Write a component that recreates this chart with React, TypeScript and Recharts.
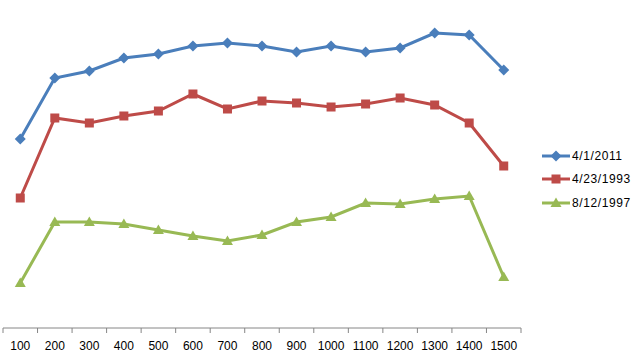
import React from 'react';
import { LineChart, Line, XAxis, YAxis, Legend } from 'recharts';

const categories = ['100', '200', '300', '400', '500', '600', '700', '800', '900', '1000', '1100', '1200', '1300', '1400', '1500'];
const seriesA = [189, 250, 257, 270, 274, 282, 285, 282, 276, 282, 276, 280, 295, 293, 258];
const seriesB = [130, 210, 205, 212, 217, 234, 219, 227, 225, 221, 224, 230, 223, 205, 162];
const seriesC = [45, 106, 106, 104, 98, 92, 87, 93, 106, 111, 125, 124, 129, 132, 51];

const seriesNames = ['4/1/2011', '4/23/1993', '8/12/1997'];
const seriesColors = ['#4A7EBB', '#BE4B48', '#98B954'];
const seriesShapes = ['diamond', 'square', 'triangle'];

const data = categories.map((c, i) => ({ cat: c, a: seriesA[i], b: seriesB[i], c: seriesC[i] }));

const HALF_BAND = 17.27;
const FONT = "'Liberation Sans', Arial, sans-serif";

const Marker = ({ shape, x, y, color }: { shape: string; x: number; y: number; color: string }) => {
  if (shape === 'diamond') {
    return <polygon points={`${x},${y - 5.5} ${x + 5.5},${y} ${x},${y + 5.5} ${x - 5.5},${y}`} fill={color} />;
  }
  if (shape === 'square') {
    return <rect x={x - 4.5} y={y - 4.5} width={9} height={9} fill={color} />;
  }
  return <polygon points={`${x},${y - 5.5} ${x + 5.5},${y + 4} ${x - 5.5},${y + 4}`} fill={color} />;
};

const makeDot = (shape: string, color: string) => (props: any) => {
  const { cx, cy, index } = props;
  return (
    <g key={`${shape}-${index}`}>
      <Marker shape={shape} x={cx} y={cy} color={color} />
    </g>
  );
};

// excel style: tick marks sit between categories
const CatTick = (props: any) => {
  const { x, y, payload, index } = props;
  const last = index === categories.length - 1;
  return (
    <g>
      <line x1={x - HALF_BAND} x2={x - HALF_BAND} y1={y - 8} y2={y - 3} stroke="#868686" />
      {last && <line x1={x + HALF_BAND} x2={x + HALF_BAND} y1={y - 8} y2={y - 3} stroke="#868686" />}
      <text x={x} y={y + 13.5} textAnchor="middle" fontSize={12} fill="#000" fontFamily={FONT}>
        {payload.value}
      </text>
    </g>
  );
};

const LegendBox = () => (
  <div style={{ fontFamily: FONT, fontSize: 12, letterSpacing: 0.6, color: '#000' }}>
    {seriesNames.map((n, i) => (
      <div key={n} style={{ display: 'flex', alignItems: 'center', height: 23.5 }}>
        <svg width={30} height={12} style={{ marginRight: 1 }}>
          <line x1={1} x2={29} y1={6} y2={6} stroke={seriesColors[i]} strokeWidth={3} />
          <Marker shape={seriesShapes[i]} x={15} y={6} color={seriesColors[i]} />
        </svg>
        <span>{n}</span>
      </div>
    ))}
  </div>
);

export default function App() {
  return (
    <div style={{ position: 'absolute', left: 0, top: 0, width: 635, height: 360, background: '#fff' }}>
      <LineChart width={635} height={360} data={data} margin={{ top: 8, right: 114, bottom: 2, left: 3 }}>
        <XAxis
          dataKey="cat"
          height={30}
          padding={{ left: HALF_BAND, right: HALF_BAND }}
          axisLine={{ stroke: '#868686' }}
          tickLine={false}
          interval={0}
          tick={<CatTick />}
        />
        <YAxis hide domain={[0, 320]} />
        <Legend
          layout="vertical"
          align="center"
          verticalAlign="middle"
          content={<LegendBox />}
          wrapperStyle={{ left: 541, top: 144, width: 94 }}
        />
        {['a', 'b', 'c'].map((k, i) => (
          <Line
            key={k}
            dataKey={k}
            name={seriesNames[i]}
            stroke={seriesColors[i]}
            strokeWidth={3}
            dot={makeDot(seriesShapes[i], seriesColors[i])}
            activeDot={false}
            isAnimationActive={false}
          />
        ))}
      </LineChart>
    </div>
  );
}
